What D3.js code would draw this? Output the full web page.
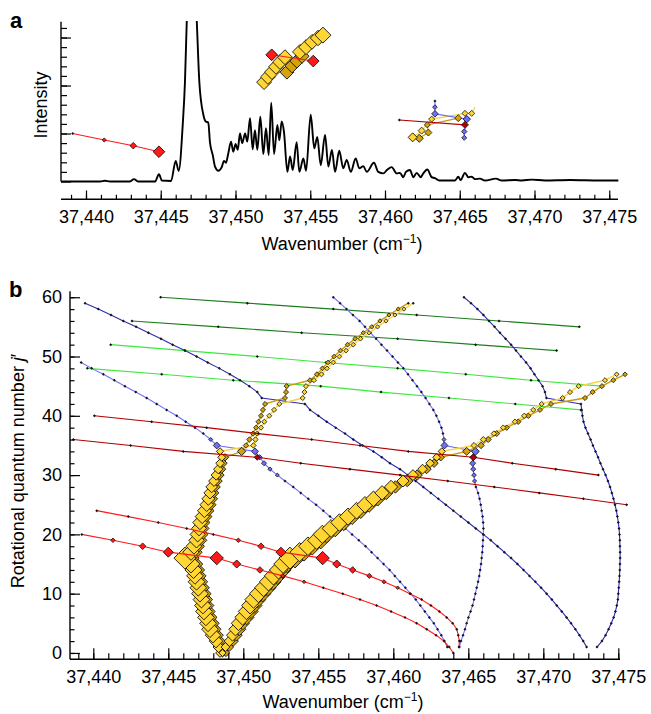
<!DOCTYPE html>
<html>
<head>
<meta charset="utf-8">
<script src="https://cdn.jsdelivr.net/npm/d3@7"></script>
<style>
  body { margin: 0; background: #fff; }
  svg { display: block; font-family: "Liberation Sans", Arial, Helvetica, sans-serif; }
</style>
</head>
<body>
<svg id="chart" width="651" height="714"></svg>
<script>
// ---------- Panel a: measured spectrum [wavenumber, intensity] ----------
const spectrum = [
  [37438.33,0],[37440.94,0],[37441.27,0.015],[37441.61,0],[37442.94,0],[37443.21,0.05],[37443.48,0],
  [37444.62,0],[37444.88,0.15],[37445.08,0.02],[37445.69,0.01],[37446.00,0.43],[37446.20,0.22],
  [37446.47,1.18],[37446.62,2.08],[37446.74,3.34],[37447.06,5.6],[37447.41,3.34],[37447.58,2.08],
  [37447.85,1.39],[37448.01,1.25],[37448.18,1.23],[37448.29,0.82],[37448.48,0.55],[37448.63,0.31],
  [37448.85,0.225],[37449.08,0.30],[37449.23,0.43],[37449.36,0.39],[37449.52,0.59],[37449.70,0.83],
  [37449.85,0.62],[37450.01,0.78],[37450.15,0.66],[37450.30,1.00],[37450.45,0.80],[37450.64,1.00],
  [37450.79,0.83],[37450.97,1.32],[37451.15,0.67],[37451.30,1.07],[37451.46,0.66],[37451.66,1.35],
  [37451.86,0.57],[37452.04,1.11],[37452.22,0.55],[37452.39,1.64],[37452.58,0.57],[37452.80,1.18],
  [37452.93,0.86],[37453.09,1.25],[37453.24,1.04],[37453.47,0.20],[37453.65,0.52],[37453.83,0.24],
  [37454.09,0.82],[37454.27,0.20],[37454.54,0.48],[37454.72,0.225],[37455.03,1.39],[37455.27,0.69],
  [37455.47,0.93],[37455.70,0.34],[37455.99,0.97],[37456.21,0.31],[37456.45,0.66],[37456.66,0.20],
  [37456.94,0.64],[37457.21,0.275],[37457.44,0.45],[37457.71,0.20],[37458.04,0.48],[37458.28,0.275],
  [37458.55,0.32],[37458.78,0.20],[37459.26,0.39],[37459.55,0.20],[37459.89,0.17],[37460.13,0.24],
  [37460.45,0.30],[37460.78,0.17],[37461.00,0.18],[37461.22,0.09],[37461.40,0.20],[37461.67,0.24],
  [37461.89,0.09],[37462.12,0.18],[37462.39,0.09],[37462.56,0.17],[37462.83,0.25],[37463.12,0.09],
  [37463.34,0.07],[37463.63,0.02],[37464.68,0.02],[37464.90,0.10],[37465.06,0.03],[37465.35,0.18],
  [37465.57,0.09],[37465.80,0.10],[37466.02,0.05],[37466.35,0.06],[37466.69,0.02],[37467.42,0.06],
  [37467.81,0.02],[37468.70,0.03],[37469.16,0.02],[37469.81,0.04],[37470.70,0.02],[37472.37,0.03],
  [37474.38,0.02],[37475.61,0.02]
];

// Panel a assignment markers [wavenumber, intensity-axis value, line strength (null = no marker)]
const aRed = [[37439.11,1.00,0],[37441.22,0.865,0.05],[37443.16,0.746,0.18],[37444.88,0.62,0.45]];
const aMidLight1 = [[37451.91,2.07,0.62],[37452.17,2.18,0.62],[37452.44,2.28,0.62],[37452.71,2.39,0.62],[37452.98,2.49,0.62],[37453.31,2.59,0.62]];
const aMidGold = [[37453.44,2.28,0.58],[37453.78,2.41,0.58],[37454.11,2.51,0.58],[37454.45,2.61,0.58]];
const aMidLight2 = [[37454.31,2.70,0.62],[37454.72,2.80,0.62],[37455.12,2.91,0.62],[37455.52,2.99,0.65],[37455.85,3.05,0.68]];
const aMidRed = [[37452.42,2.64,0.45],[37455.20,2.51,0.45]];
const aRightDarkRed = [[37460.96,1.28,0],[37465.35,1.18,0.2]];
const aRightBlue = [[37463.34,1.68,0],[37463.34,1.55,0.08],[37463.34,1.41,0.18],[37465.47,1.30,0.22],[37465.30,1.04,0.12],[37465.30,0.91,0.1]];
const aRightGold = [[37462.29,0.90,0.26],[37462.90,1.02,0.2],[37462.83,1.18,0.15],[37464.90,1.32,0.2]];
const aRightLight = [[37461.85,0.92,0.31],[37462.45,1.06,0.2],[37463.12,1.30,0.15],[37465.35,1.42,0.15],[37465.80,1.42,0.15],[37466.02,1.55,null]];

// ---------- Panel b: branches [J', wavenumber, line strength] ----------
const blueA = [
  [59,37439.45],[58,37440.33],[57,37441.18],[56,37442.00],[55,37442.85],[54,37443.67],[53,37444.51],[52,37445.29],
  [51,37446.11],[50,37446.89],[49,37447.63],[48,37448.40],[47,37449.11],[46,37449.78],[45,37450.40],[44,37450.93],
  [43,37451.23],[42,37454.11],[41,37454.45],[40,37455.00],[39,37455.56],[38,37456.16],[37,37456.78],[36,37457.33],
  [35,37457.96],[34,37458.67],[33,37459.23],[32,37459.78],[31,37460.45],[30,37460.97],[29,37461.49],[28,37462.00],
  [27,37462.50],[26,37463.00],[25,37463.50],[24,37464.00],[23,37464.50],[22,37465.00],[21,37465.50],[20,37466.00],
  [19,37466.50],[18,37466.95],[17,37467.40],[16,37467.85],[15,37468.27],[14,37468.68],[13,37469.08],[12,37469.47],
  [11,37469.85],[10,37470.22],[9,37470.57],[8,37470.90],[7,37471.23],[6,37471.55],[5,37471.85],[4,37472.14],
  [3,37472.41],[2,37472.66],[1,37472.89]
];
const blueD = [
  [60,37464.71],[59,37465.18],[58,37465.61],[57,37466.01],[56,37466.38],[55,37466.75],[54,37467.11],[53,37467.48],
  [52,37467.85],[51,37468.18],[50,37468.51],[49,37468.85],[48,37469.15],[47,37469.41],[46,37469.68],[45,37469.95],
  [44,37470.11],[43,37470.21],[42,37472.51],[41,37472.56],[40,37472.61],[39,37472.68],[38,37472.81],[37,37472.98],
  [36,37473.15],[35,37473.31],[34,37473.48],[33,37473.65],[32,37473.81],[31,37473.98],[30,37474.15],[29,37474.31],
  [28,37474.45],[27,37474.57],[26,37474.68],[25,37474.78],[24,37474.87],[23,37474.94],[22,37475.00],[21,37475.05],
  [20,37475.08],[19,37475.10],[18,37475.11],[17,37475.12],[16,37475.12],[15,37475.11],[14,37475.10],[13,37475.08],
  [12,37475.06],[11,37475.03],[10,37475.00],[9,37474.97],[8,37474.90],[7,37474.81],[6,37474.69],[5,37474.53],
  [4,37474.35],[3,37474.15],[2,37473.91],[1,37473.58]
];
const blueB = [
  [49,37439.19],[48,37439.89],[47,37440.67],[46,37441.40],[45,37442.11],[44,37442.83],[43,37443.56],[42,37444.23],
  [41,37444.89],[40,37445.56],[39,37446.16],[38,37446.78],[37,37447.33],[36,37447.83,0.05],[35,37448.23,0.2],
  [34,37450.78,0.2],[33,37451.10,0.1],[32,37451.38,0.1],[31,37451.78,0.06],[30,37452.27,0.04],[29,37452.78],
  [28,37453.33],[27,37453.83],[26,37454.33],[25,37454.85],[24,37455.33],[23,37455.78],[22,37456.33],[21,37456.80],
  [20,37457.25],[19,37457.70],[18,37458.15],[17,37458.55],[16,37458.95],[15,37459.35],[14,37459.75],[13,37460.10],
  [12,37460.45],[11,37460.80],[10,37461.15],[9,37461.50],[8,37461.80],[7,37462.10],[6,37462.40],[5,37462.70],
  [4,37462.95],[3,37463.20],[2,37463.40],[1,37463.60]
];
const blueC = [
  [60,37456.00],[59,37456.45],[58,37456.88],[57,37457.31],[56,37457.75],[55,37458.11],[54,37458.48],[53,37458.85],
  [52,37459.21],[51,37459.58],[50,37459.95],[49,37460.31],[48,37460.67],[47,37460.98],[46,37461.28],[45,37461.58],
  [44,37461.87],[43,37462.15],[42,37462.41],[41,37462.67],[40,37462.87],[39,37463.05],[38,37463.21],[37,37463.31],
  [36,37463.38,0.05],[35,37463.41,0.2],[34,37465.47,0.25],[33,37465.35,0.15],[32,37465.29,0.15],[31,37465.33,0.1],
  [30,37465.38,0.08],[29,37465.42,0.05],[28,37465.51],[27,37465.65],[26,37465.75],[25,37465.83],[24,37465.89],
  [23,37465.95],[22,37465.99],[21,37466.01],[20,37466.00],[19,37465.98],[18,37465.96],[17,37465.93],[16,37465.89],
  [15,37465.85],[14,37465.79],[13,37465.73],[12,37465.65],[11,37465.56],[10,37465.47],[9,37465.38],[8,37465.28],
  [7,37465.15],[6,37465.01],[5,37464.89],[4,37464.78],[3,37464.65],[2,37464.51],[1,37464.40]
];
const red1 = [
  [20,37439.23,0],[19,37441.31,0.07],[18,37443.29,0.18],[17,37445.00,0.36],[16,37448.23,0.54],[15,37449.56,0.26],
  [14,37451.11,0.18],[13,37452.63,0.07],[12,37454.05,0.02],[11,37455.33],[10,37456.63],[9,37457.78],[8,37458.89],
  [7,37459.85],[6,37460.78],[5,37461.56],[4,37462.23],[3,37462.85],[2,37463.38],[1,37463.73],[0,37464.00]
];
const red2 = [
  [24,37440.23],[23,37442.33],[22,37444.33],[21,37446.23],[20,37448.00],[19,37449.67,0.07],[18,37451.18,0.18],
  [17,37452.51,0.36],[16,37455.29,0.54],[15,37456.23,0.26],[14,37457.29,0.18],[13,37458.40,0.1],[12,37459.38,0.05],
  [11,37460.29,0.02],[10,37461.11],[9,37461.89],[8,37462.51],[7,37463.07],[6,37463.56],[5,37463.96],[4,37464.23],
  [3,37464.33],[2,37464.40],[1,37464.38]
];
const darkRed1 = [
  [40,37440.07],[39,37443.89],[38,37447.56],[37,37451.00],[36,37454.56],[35,37457.78],[34,37461.00],
  [33,37465.33,0.2],[32,37467.93],[31,37470.83],[30,37473.67]
];
const darkRed2 = [
  [36,37438.67],[35,37442.49],[34,37446.00],[33,37450.93,0.15],[32,37453.83],[31,37457.11],[30,37460.45],
  [29,37463.63],[28,37466.73],[27,37469.73],[26,37472.67],[25,37475.56]
];
const green1 = [[60,37444.49],[59,37450.27],[58,37456.00],[57,37461.56],[56,37467.05],[55,37472.40]];
const green2 = [[56,37442.58],[55,37448.33],[54,37453.89],[53,37460.29],[52,37465.49],[51,37470.89]];
const green3 = [[52,37441.16],[51,37446.11],[50,37450.93],[49,37455.51],[48,37460.29],[47,37464.83],[46,37469.18],[45,37473.89]];
const green4 = [[48,37439.60],[47,37444.56],[46,37449.33],[45,37455.16],[44,37459.18],[43,37463.71],[42,37468.13],[41,37472.51]];

const yellowLeftGold = [
  [0,37448.62,0.25],[1,37448.55,0.35],[2,37448.40,0.47],[3,37448.20,0.58],[4,37448.00,0.65],[5,37447.87,0.66],
  [6,37447.73,0.66],[7,37447.60,0.66],[8,37447.52,0.66],[9,37447.43,0.66],[10,37447.33,0.66],[11,37447.22,0.66],
  [12,37447.10,0.66],[13,37447.00,0.66],[14,37446.90,0.66],[15,37446.75,0.7],[16,37446.45,0.8],[17,37446.75,0.64],
  [18,37446.93,0.6],[19,37447.10,0.58],[20,37447.18,0.58],[21,37447.27,0.54],[22,37447.33,0.54],[23,37447.48,0.52],
  [24,37447.63,0.5],[25,37447.78,0.48],[26,37447.89,0.46],[27,37448.00,0.42],[28,37448.11,0.4],[29,37448.27,0.35],
  [30,37448.41,0.33],[31,37448.55,0.28],[32,37448.67,0.24],[33,37448.78,0.22],[34,37449.89,0.27],[35,37450.18,0.12],
  [36,37450.41,0.12],[37,37450.65,0.1],[38,37450.85,0.1],[39,37451.01,0.1],[40,37451.18,0.1],[41,37451.31,0.1],
  [42,37451.45,0.1],[43,37452.78,0.1],[44,37452.85,0.1],[45,37452.89,0.1],[46,37454.45,0.1],[47,37454.91,0.1],
  [48,37455.28,0.08],[49,37455.65,0.08],[50,37456.05,0.08],[51,37456.48,0.08],[52,37456.95,0.08],[53,37457.45,0.08],
  [54,37458.00,0.06],[55,37458.56,0.06],[56,37459.11,0.06],[57,37459.71,0.05],[58,37460.33,0.05],[59,37461.00,0]
];
const yellowLeftLight = [
  [0,37448.45,0.3],[1,37448.35,0.42],[2,37448.18,0.55],[3,37447.98,0.65],[4,37447.78,0.72],[5,37447.65,0.72],
  [6,37447.51,0.72],[7,37447.38,0.72],[8,37447.31,0.72],[9,37447.21,0.72],[10,37447.11,0.72],[11,37447.00,0.72],
  [12,37446.88,0.72],[13,37446.78,0.72],[14,37446.68,0.74],[15,37446.51,0.78],[16,37446.11,1.0],[17,37446.51,0.7],
  [18,37446.71,0.67],[19,37446.88,0.65],[20,37446.96,0.64],[21,37447.05,0.62],[22,37447.11,0.6],[23,37447.26,0.58],
  [24,37447.41,0.57],[25,37447.56,0.55],[26,37447.67,0.52],[27,37447.78,0.48],[28,37447.89,0.45],[29,37448.05,0.41],
  [30,37448.19,0.37],[31,37448.33,0.33],[32,37448.45,0.29],[33,37448.56,0.25],[34,37448.45,0.22],[35,37450.67,0.12],
  [36,37450.81,0.12],[37,37450.93,0.1],[38,37451.18,0.1],[39,37451.40,0.1],[40,37451.73,0.1],[41,37452.05,0.1],
  [42,37452.40,0.1],[43,37453.96,0.1],[44,37454.08,0.1],[45,37454.18,0.1],[46,37454.71,0.1],[47,37455.21,0.1],
  [48,37455.58,0.08],[49,37456.00,0.08],[50,37456.41,0.08],[51,37456.85,0.08],[52,37457.33,0.08],[53,37457.81,0.08],
  [54,37458.38,0.06],[55,37458.95,0.06],[56,37459.51,0.06],[57,37460.11,0.05],[58,37460.71,0.05],[59,37461.33,0]
];
const yellowRightGold = [
  [0,37448.85,0.22],[1,37449.06,0.3],[2,37449.33,0.38],[3,37449.54,0.45],[4,37449.75,0.5],[5,37449.95,0.56],
  [6,37450.22,0.62],[7,37450.48,0.65],[8,37450.72,0.67],[9,37450.96,0.7],[10,37451.28,0.72],[11,37451.62,0.72],
  [12,37451.95,0.74],[13,37452.28,0.74],[14,37452.62,0.74],[15,37452.93,0.76],[16,37453.45,0.88],[17,37454.05,0.78],
  [18,37454.60,0.76],[19,37455.17,0.74],[20,37455.56,0.74],[21,37456.13,0.72],[22,37456.69,0.7],[23,37457.26,0.68],
  [24,37457.83,0.66],[25,37458.39,0.63],[26,37458.96,0.6],[27,37459.53,0.55],[28,37460.14,0.49],[29,37460.93,0.43],
  [30,37461.59,0.38],[31,37462.22,0.32],[32,37462.72,0.27],[33,37463.16,0.22],[34,37464.89,0.25],[35,37465.85,0.18],
  [36,37466.33,0.15],[37,37466.89,0.15],[38,37467.56,0.12],[39,37468.33,0.12],[40,37469.00,0.12],[41,37469.78,0.1],
  [42,37470.51,0.1],[43,37472.78,0.1],[44,37473.29,0.1],[45,37473.91,0.1],[46,37474.67,0.1],[47,37475.45,0.08]
];
const yellowRightLight = [
  [0,37448.61,0.22],[1,37448.81,0.3],[2,37449.08,0.4],[3,37449.28,0.47],[4,37449.48,0.54],[5,37449.68,0.6],
  [6,37449.95,0.66],[7,37450.21,0.7],[8,37450.45,0.73],[9,37450.68,0.75],[10,37451.01,0.78],[11,37451.35,0.78],
  [12,37451.68,0.8],[13,37452.01,0.8],[14,37452.35,0.8],[15,37452.65,0.82],[16,37453.11,1.0],[17,37453.75,0.85],
  [18,37454.31,0.82],[19,37454.89,0.8],[20,37455.27,0.8],[21,37455.85,0.78],[22,37456.41,0.76],[23,37456.98,0.74],
  [24,37457.55,0.72],[25,37458.11,0.7],[26,37458.68,0.66],[27,37459.25,0.6],[28,37459.85,0.54],[29,37460.65,0.47],
  [30,37461.31,0.41],[31,37461.95,0.35],[32,37462.45,0.29],[33,37462.89,0.24],[34,37463.23,0.21],[35,37465.38,0.15],
  [36,37466.00,0.15],[37,37466.71,0.12],[38,37467.33,0.12],[39,37468.11,0.12],[40,37468.73,0.12],[41,37469.33,0.1],
  [42,37469.89,0.1],[43,37471.29,0.1],[44,37471.78,0.1],[45,37472.36,0.1],[46,37474.11,0.1],[47,37474.89,0.08]
];

// ---------- Axis ticks ----------
const xMajorTicks = [37440, 37445, 37450, 37455, 37460, 37465, 37470, 37475];
const xMinorTicks = d3.range(37439, 37476, 1);
const jMajorTicks = [0, 10, 20, 30, 40, 50, 60];
const jMinorTicks = d3.range(0, 61, 2);
const intMajorTicks = [0, 1, 2, 3];
const intMinorTicks = d3.range(0.2, 3.25, 0.2);

// ---------- Colours ----------
const COL = {
  darkBlue: "#2a2ab8", lightBlue: "#6f6fff",
  darkGreen: "#1c7d1c", lightGreen: "#3ce83c",
  red: "#ff1a1a", darkRed: "#b00000",
  yellow: "#ffd633", gold: "#d3a30e",
  yellowLine: "#f8d23c", goldLine: "#c99a0a"
};

const svg = d3.select("#chart");
const FS = 18;

// Scales
const xa = d3.scaleLinear().domain([37438.328, 37475.585]).range([61, 618]);
const ya = d3.scaleLinear().domain([0, 3.33]).range([181.5, 21.7]);
const xb = d3.scaleLinear().domain([37438.447, 37475.113]).range([70, 620]);
const yb = d3.scaleLinear().domain([-1.07, 61]).range([659.3, 291.3]);
const rScale = d3.scaleLinear().domain([0, 1]).range([1.6, 11]);

const diamond = r => `M0,${-r}L${r},0L0,${r}L${-r},0Z`;

// point helpers: panel b rows are [J, wn, strength]; panel a rows are [wn, value, strength]
const ptsB = data => data.map(d => ({ x: xb(d[1]), y: yb(d[0]), s: d.length > 2 ? d[2] : 0 }));
const ptsA = data => data.map(d => ({ x: xa(d[0]), y: ya(d[1]), s: d[2] }));

function drawLine(g, pts, color, w) {
  g.append("path")
    .attr("d", d3.line().x(p => p.x).y(p => p.y)(pts))
    .attr("fill", "none").attr("stroke", color).attr("stroke-width", w || 1.1)
    .attr("stroke-linejoin", "round");
}
// weak lines are plain dark dots; stronger lines are outlined diamonds scaled by strength
function drawMarkers(g, pts, fill) {
  const shown = pts.filter(p => p.s !== null && p.s !== undefined);
  g.selectAll(null).data(shown.filter(p => p.s === 0)).join("path")
    .attr("transform", p => `translate(${p.x},${p.y})`)
    .attr("d", diamond(1.5))
    .attr("fill", "#141414");
  g.selectAll(null).data(shown.filter(p => p.s > 0)).join("path")
    .attr("transform", p => `translate(${p.x},${p.y})`)
    .attr("d", p => diamond(rScale(p.s)))
    .attr("fill", fill)
    .attr("stroke", "#111")
    .attr("stroke-width", p => p.s > 0.2 ? 0.9 : 0.8);
}

// ================= Panel a =================
const ga = svg.append("g");
ga.append("clipPath").attr("id", "clipA").append("rect")
  .attr("x", 55).attr("y", 21).attr("width", 570).attr("height", 170);

ga.append("path")
  .datum(spectrum)
  .attr("clip-path", "url(#clipA)")
  .attr("d", d3.line().x(d => xa(d[0])).y(d => ya(d[1])).curve(d3.curveMonotoneX))
  .attr("fill", "none").attr("stroke", "#000").attr("stroke-width", 1.9)
  .attr("stroke-linejoin", "round");

// assignment markers in panel a
drawLine(ga, ptsA(aRed), COL.red);
drawMarkers(ga, ptsA(aRed), COL.red);
drawMarkers(ga, ptsA(aMidLight1), COL.yellow);
drawMarkers(ga, ptsA(aMidGold), COL.gold);
drawMarkers(ga, ptsA(aMidLight2), COL.yellow);
drawLine(ga, ptsA(aMidRed), COL.red);
drawMarkers(ga, ptsA(aMidRed), COL.red);
drawLine(ga, ptsA(aRightLight), COL.yellowLine);
drawLine(ga, ptsA(aRightGold), COL.goldLine);
drawLine(ga, ptsA(aRightBlue), COL.lightBlue);
drawLine(ga, ptsA(aRightDarkRed), COL.darkRed);
drawMarkers(ga, ptsA(aRightGold), COL.gold);
drawMarkers(ga, ptsA(aRightLight), COL.yellow);
drawMarkers(ga, ptsA(aRightBlue), COL.lightBlue);
drawMarkers(ga, ptsA(aRightDarkRed), COL.darkRed);

// panel a axes
function styleAxis(g) {
  g.select(".domain").remove();
  g.selectAll("line").attr("stroke", "#000").attr("stroke-width", 1.2);
  g.selectAll("text").attr("font-size", FS).attr("fill", "#000")
    .attr("font-family", '"Liberation Sans", Arial, Helvetica, sans-serif');
}
const axA = ga.append("g").attr("transform", "translate(0,199.3)");
axA.append("g").call(d3.axisBottom(xa).tickValues(xMinorTicks).tickSizeInner(-4.5).tickSizeOuter(0).tickFormat("")).call(styleAxis);
axA.append("g").call(d3.axisBottom(xa).tickValues(xMajorTicks).tickSizeInner(-8.8).tickSizeOuter(0)
  .tickPadding(11).tickFormat(d3.format(","))).call(styleAxis);
axA.append("line").attr("x1", 61).attr("x2", 618).attr("y1", 0).attr("y2", 0)
  .attr("stroke", "#000").attr("stroke-width", 1.4);

const ayA = ga.append("g").attr("transform", "translate(61,0)");
ayA.append("g").call(d3.axisLeft(ya).tickValues(intMinorTicks).tickSizeInner(-6).tickSizeOuter(0).tickFormat("")).call(styleAxis);
ayA.append("g").call(d3.axisLeft(ya).tickValues(intMajorTicks).tickSizeInner(-10).tickSizeOuter(0).tickFormat("")).call(styleAxis);
ayA.append("line").attr("x1", 0).attr("x2", 0).attr("y1", 21.7).attr("y2", 181.5)
  .attr("stroke", "#000").attr("stroke-width", 1.4);

function xTitle(g, cx, by) {
  const t = g.append("text").attr("x", cx).attr("y", by).attr("text-anchor", "middle")
    .attr("font-size", FS).attr("fill", "#000");
  t.append("tspan").text("Wavenumber (cm");
  t.append("tspan").attr("dy", -7).attr("font-size", 12).text("\u22121");
  t.append("tspan").attr("dy", 7).text(")");
}
xTitle(ga, 342, 250);
ga.append("text").attr("transform", "translate(47,105) rotate(-90)").attr("text-anchor", "middle")
  .attr("font-size", FS).attr("fill", "#000").text("Intensity");
ga.append("text").attr("x", 10).attr("y", 28).attr("font-size", 22).attr("font-weight", "bold").text("a");

// ================= Panel b =================
const gb = svg.append("g");

// green branches
[[green1, COL.darkGreen], [green2, COL.darkGreen], [green3, COL.lightGreen], [green4, COL.lightGreen]].forEach(([d, c]) => {
  drawLine(gb, ptsB(d), c);
  drawMarkers(gb, ptsB(d), c);
});
// blue branches
[[blueA, COL.darkBlue], [blueD, COL.darkBlue], [blueB, COL.lightBlue], [blueC, COL.lightBlue]].forEach(([d, c]) => {
  drawLine(gb, ptsB(d), c);
  drawMarkers(gb, ptsB(d), c);
});
// yellow branches
drawLine(gb, ptsB(yellowLeftGold), COL.goldLine, 1.4);
drawLine(gb, ptsB(yellowRightGold), COL.goldLine, 1.4);
drawLine(gb, ptsB(yellowLeftLight), COL.yellowLine, 1.4);
drawLine(gb, ptsB(yellowRightLight), COL.yellowLine, 1.4);
drawMarkers(gb, ptsB(yellowLeftGold), COL.gold);
drawMarkers(gb, ptsB(yellowRightGold), COL.gold);
drawMarkers(gb, ptsB(yellowLeftLight), COL.yellow);
drawMarkers(gb, ptsB(yellowRightLight), COL.yellow);
// red branches
[[darkRed1, COL.darkRed], [darkRed2, COL.darkRed], [red1, COL.red], [red2, COL.red]].forEach(([d, c]) => {
  drawLine(gb, ptsB(d), c);
});
[[darkRed1, COL.darkRed], [darkRed2, COL.darkRed], [red1, COL.red], [red2, COL.red]].forEach(([d, c]) => {
  drawMarkers(gb, ptsB(d), c);
});

// panel b axes
const axB = gb.append("g").attr("transform", "translate(0,659.3)");
axB.append("g").call(d3.axisBottom(xb).tickValues(xMinorTicks).tickSizeInner(-6).tickSizeOuter(0).tickFormat("")).call(styleAxis);
axB.append("g").call(d3.axisBottom(xb).tickValues(xMajorTicks).tickSizeInner(-11).tickSizeOuter(0)
  .tickPadding(11).tickFormat(d3.format(","))).call(styleAxis);
axB.append("line").attr("x1", 70).attr("x2", 620).attr("y1", 0).attr("y2", 0)
  .attr("stroke", "#000").attr("stroke-width", 1.4);

const ayB = gb.append("g").attr("transform", "translate(70,0)");
ayB.append("g").call(d3.axisLeft(yb).tickValues(jMinorTicks).tickSizeInner(-4.5).tickSizeOuter(0).tickFormat("")).call(styleAxis);
ayB.append("g").call(d3.axisLeft(yb).tickValues(jMajorTicks).tickSizeInner(-10).tickSizeOuter(0)
  .tickPadding(8)).call(styleAxis);
ayB.append("line").attr("x1", 0).attr("x2", 0).attr("y1", 291.3).attr("y2", 659.3)
  .attr("stroke", "#000").attr("stroke-width", 1.4);

xTitle(gb, 343, 708);
const yt = gb.append("text").attr("transform", "translate(24,471) rotate(-90)").attr("text-anchor", "middle")
  .attr("font-size", FS).attr("fill", "#000");
yt.append("tspan").text("Rotational quantum number ");
yt.append("tspan").attr("font-style", "italic").text("j");
yt.append("tspan").text("\u2032");
gb.append("text").attr("x", 9).attr("y", 297).attr("font-size", 22).attr("font-weight", "bold").text("b");
</script>
</body>
</html>
